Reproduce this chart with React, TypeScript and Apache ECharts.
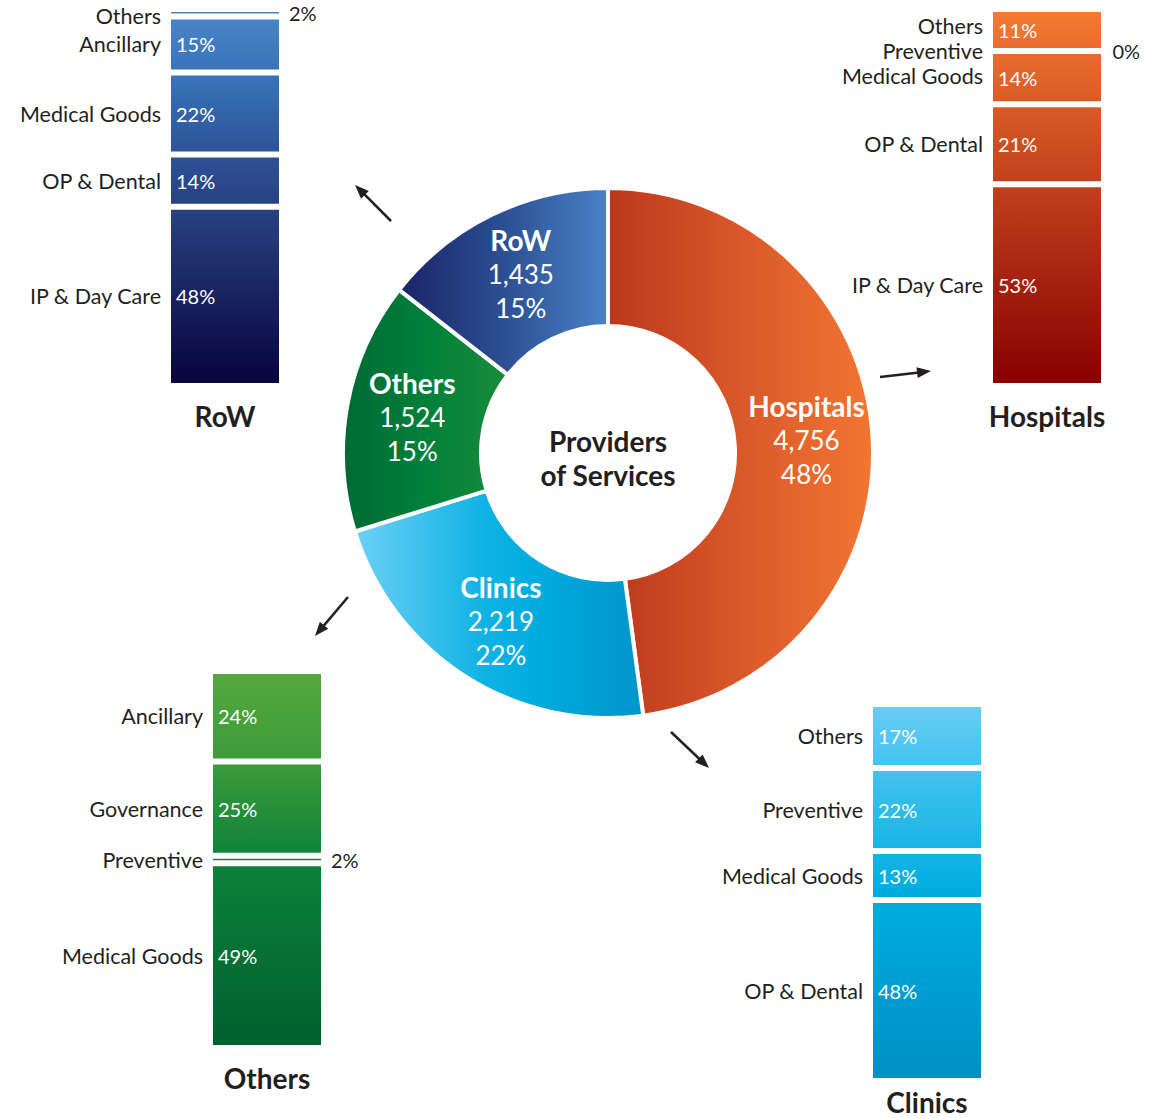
import { useEffect, useRef } from 'react';
import * as echarts from 'echarts';

// ---------- data ----------
const pieNames = ['Hospitals', 'Clinics', 'Others', 'RoW'];
const pieValues = [4756, 2219, 1524, 1435];
const pieShares = [48, 22, 15, 15];

// stacked bars, listed bottom -> top
const rowCats = ['IP & Day Care', 'OP & Dental', 'Medical Goods', 'Ancillary', 'Others'];
const rowShares = [48, 14, 22, 15, 2];

const hospCats = ['IP & Day Care', 'OP & Dental', 'Medical Goods', 'Preventive', 'Others'];
const hospShares = [53, 21, 14, 0, 11];

const othCats = ['Medical Goods', 'Preventive', 'Governance', 'Ancillary'];
const othShares = [49, 2, 25, 24];

const cliCats = ['OP & Dental', 'Medical Goods', 'Preventive', 'Others'];
const cliShares = [48, 13, 22, 17];

// ---------- styling / layout ----------
const FONT = 'Lato, "Open Sans", sans-serif';
const INK = '#231f20';

type Stop = [number, string];

const pieColors: Stop[][] = [
  [[0, '#bd371b'], [0.5, '#d9582a'], [1, '#f27632']],
  [[0, '#6dd0f6'], [0.45, '#10b2e4'], [0.6, '#00ade0'], [1, '#0095ca']],
  [[0, '#006a34'], [0.5, '#00803a'], [1, '#1a8c3c']],
  [[0, '#1a2466'], [0.5, '#2c4f93'], [1, '#4a82c6']],
];

type Panel = {
  title: string;
  cats: string[];
  shares: number[];
  stops: Stop[];
  grid: { left: number; top: number; width: number; height: number };
  titleMargin: number;
  nameNudge: Record<number, number>;
};

const panels: Panel[] = [
  {
    title: 'RoW', cats: rowCats, shares: rowShares,
    stops: [[0, '#4b86ca'], [0.2, '#3670b6'], [0.4, '#2d5094'], [0.55, '#283e7e'], [1, '#07033d']],
    grid: { left: 168, top: 9, width: 114, height: 377 }, titleMargin: 16,
    nameNudge: { 4: 3 },
  },
  {
    title: 'Hospitals', cats: hospCats, shares: hospShares,
    stops: [[0, '#f57b33'], [0.47, '#c0401c'], [1, '#870000']],
    grid: { left: 990, top: 9, width: 114, height: 377 }, titleMargin: 16,
    nameNudge: { 4: -4, 2: -2 },
  },
  {
    title: 'Others', cats: othCats, shares: othShares,
    stops: [[0, '#55a83e'], [0.25, '#3c9a3a'], [0.5, '#0d823a'], [1, '#005f2e']],
    grid: { left: 210, top: 671, width: 114, height: 377 }, titleMargin: 16,
    nameNudge: {},
  },
  {
    title: 'Clinics', cats: cliCats, shares: cliShares,
    stops: [[0, '#67cdf4'], [0.4, '#16b3e5'], [0.5, '#00ade0'], [1, '#008fc4']],
    grid: { left: 870, top: 704, width: 114, height: 377 }, titleMargin: 7,
    nameNudge: {},
  },
];

const arrows = [
  [391, 221, 355, 185],
  [880, 377, 931, 371],
  [348, 597, 315, 636],
  [671, 732, 709, 768],
];

function hex(h: string) {
  const n = parseInt(h.slice(1), 16);
  return [(n >> 16) & 255, (n >> 8) & 255, n & 255];
}
function colorAt(stops: Stop[], t: number) {
  let i = 0;
  while (i < stops.length - 2 && t > stops[i + 1][0]) i++;
  const [o0, c0] = stops[i];
  const [o1, c1] = stops[i + 1];
  const u = Math.max(0, Math.min(1, (t - o0) / (o1 - o0)));
  const A = hex(c0), B = hex(c1);
  const c = A.map((v, j) => Math.round(v + (B[j] - v) * u));
  return `rgb(${c[0]},${c[1]},${c[2]})`;
}
function segGradient(stops: Stop[], t0: number, t1: number) {
  const cs: { offset: number; color: string }[] = [{ offset: 0, color: colorAt(stops, t0) }];
  stops.forEach(([o]) => {
    if (o > t0 && o < t1) cs.push({ offset: (o - t0) / (t1 - t0), color: colorAt(stops, o) });
  });
  cs.push({ offset: 1, color: colorAt(stops, t1) });
  return new echarts.graphic.LinearGradient(0, 0, 0, 1, cs);
}

export default function App() {
  const ref = useRef<HTMLDivElement>(null);

  useEffect(() => {
    document.body.style.margin = '0';
    const chart = echarts.init(ref.current!, null, { renderer: 'svg' });

    const grids: any[] = [];
    const xAxes: any[] = [];
    const yAxes: any[] = [];
    const series: any[] = [];

    panels.forEach((p, k) => {
      const total = p.shares.reduce((a, b) => a + b, 0);
      grids.push({ ...p.grid, containLabel: false });
      xAxes.push({
        type: 'category',
        gridIndex: k,
        data: [p.title],
        axisLine: { show: false },
        axisTick: { show: false },
        axisLabel: {
          fontSize: 28, fontWeight: 'bold', color: INK, margin: p.titleMargin,
          lineHeight: 28, fontFamily: FONT,
        },
      });
      yAxes.push({ type: 'value', gridIndex: k, min: 0, max: total, show: false });

      let cum = 0;
      p.shares.forEach((s, i) => {
        const fTop = 1 - (cum + s) / total;
        const fBot = 1 - cum / total;
        cum += s;
        const small = s < 5;
        series.push({
          type: 'bar',
          xAxisIndex: k,
          yAxisIndex: k,
          stack: 'vis' + k,
          barWidth: 114,
          barGap: '-100%',
          silent: true,
          data: [s],
          itemStyle: {
            color: segGradient(p.stops, fTop, Math.max(fBot, fTop + 0.001)),
            borderColor: '#ffffff',
            borderWidth: 3,
          },
          label: {
            show: true,
            position: small ? 'right' : 'insideLeft',
            distance: small ? 7 : 8,
            formatter: `${s}%`,
            color: small ? INK : '#ffffff',
            fontSize: 20,
            lineHeight: 20,
            fontFamily: FONT,
          },
        });
        series.push({
          type: 'bar',
          xAxisIndex: k,
          yAxisIndex: k,
          stack: 'names' + k,
          barWidth: 114,
          barGap: '-100%',
          silent: true,
          data: [s],
          itemStyle: { color: 'rgba(0,0,0,0)' },
          label: {
            show: true,
            position: 'left',
            distance: 7,
            offset: [0, p.nameNudge[i] || 0],
            formatter: p.cats[i],
            color: INK,
            fontSize: 21.5,
            lineHeight: 20,
            fontFamily: FONT,
          },
        });
      });
    });

    series.push({
      type: 'pie',
      center: [608, 453],
      radius: [127, 265],
      startAngle: 90,
      clockwise: true,
      silent: true,
      itemStyle: { borderColor: '#ffffff', borderWidth: 4 },
      labelLine: { show: false },
      label: {
        show: true,
        position: 'inside',
        formatter: (q: any) =>
          `{n|${q.name}}\n{v|${Number(q.value).toLocaleString('en-US')}}\n{v|${pieShares[q.dataIndex]}%}`,
        rich: {
          n: { fontSize: 28, fontWeight: 'bold', color: '#ffffff', lineHeight: 34, fontFamily: FONT },
          v: { fontSize: 26, color: '#ffffff', lineHeight: 34, fontFamily: FONT },
        },
      },
      data: pieNames.map((n, i) => ({
        name: n,
        value: pieValues[i],
        itemStyle: {
          color: new echarts.graphic.LinearGradient(
            0, 0, 1, 0,
            pieColors[i].map(([offset, color]) => ({ offset, color })),
          ),
        },
      })),
    });

    const graphics: any[] = [
      {
        type: 'text',
        x: 608,
        y: 458,
        style: {
          text: 'Providers\nof Services',
          align: 'center',
          verticalAlign: 'middle',
          fontSize: 28,
          fontWeight: 'bold',
          fontFamily: FONT,
          lineHeight: 34,
          fill: INK,
        },
      },
    ];
    arrows.forEach(([x1, y1, x2, y2]) => {
      const dx = x2 - x1, dy = y2 - y1;
      const len = Math.hypot(dx, dy);
      const ux = dx / len, uy = dy / len;
      const hl = 14, hw = 5.5;
      const bx = x2 - ux * hl, by = y2 - uy * hl;
      graphics.push({
        type: 'line',
        shape: { x1, y1, x2: bx + ux * 2, y2: by + uy * 2 },
        style: { stroke: INK, lineWidth: 2.5 },
      });
      graphics.push({
        type: 'polygon',
        shape: {
          points: [
            [x2, y2],
            [bx - uy * hw, by + ux * hw],
            [bx + uy * hw, by - ux * hw],
          ],
        },
        style: { fill: INK },
      });
    });

    chart.setOption({
      animation: false,
      backgroundColor: '#ffffff',
      textStyle: { fontFamily: FONT },
      grid: grids,
      xAxis: xAxes,
      yAxis: yAxes,
      series,
      graphic: graphics,
    });

    return () => chart.dispose();
  }, []);

  return <div ref={ref} style={{ width: 1157, height: 1118 }} />;
}
